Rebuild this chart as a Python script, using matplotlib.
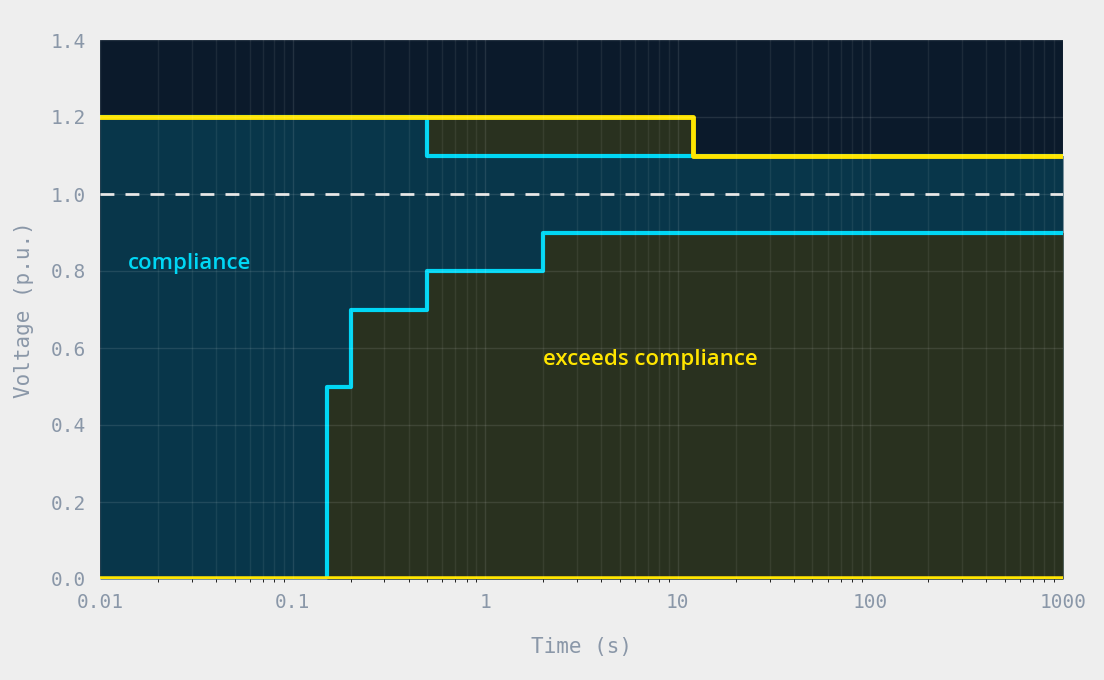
import matplotlib.pyplot as plt
import numpy as np

# upper compliance boundary (cyan), step-post
upper_t = [0.01, 0.5, 1000]
upper_v = [1.2, 1.1, 1.1]
# lower compliance boundary (cyan)
lower_t = [0.15, 0.2, 0.5, 2, 1000]
lower_v = [0.5, 0.7, 0.8, 0.9, 0.9]
# yellow limit
limit_t = [0.01, 12, 1000]
limit_v = [1.2, 1.1, 1.1]

BG = '#0b1a2b'
TEAL = '#08364a'
OLIVE = '#29311f'
CYAN = '#00d7f5'
YELLOW = '#ffe500'
TICK = '#8a97a8'

fig = plt.figure(figsize=(11.04, 6.8), dpi=100, facecolor='#eeeeee')
ax = fig.add_axes([100/1104, 101/680, 963/1104, 539/680])
ax.set_facecolor(BG)
ax.set_xscale('log')
ax.set_xlim(0.01, 1000)
ax.set_ylim(0, 1.4)

x = np.logspace(-2, 3, 2000)
up = np.array(upper_v)[np.searchsorted(upper_t, x, side='right') - 1]
lim = np.array(limit_v)[np.searchsorted(limit_t, x, side='right') - 1]
idx = np.searchsorted(lower_t, x, side='right') - 1
low = np.where(idx < 0, 0.0, np.array(lower_v)[np.clip(idx, 0, None)])

ax.fill_between(x, 0, up, color=TEAL, step='post', lw=0)
ax.fill_between(x, 0, low, where=x >= lower_t[0], color=OLIVE, step='post', lw=0)
ax.fill_between(x, up, lim, where=up < lim, color=OLIVE, step='post', lw=0)

ax.grid(True, which='both', axis='x', color='white', alpha=0.07, lw=1)
ax.grid(True, which='major', axis='both', color='white', alpha=0.1, lw=1)
ax.set_axisbelow(False)

ax.axhline(1.0, color='#e6e6e6', ls=(0, (5, 4)), lw=2)
ax.step(upper_t, upper_v, where='post', color=CYAN, lw=3)
ax.step([lower_t[0]] + lower_t, [0] + lower_v, where='post', color=CYAN, lw=3)
ax.step(limit_t, limit_v, where='post', color=YELLOW, lw=3.5)
ax.axhline(0.0, color=YELLOW, lw=4)

ax.text(0.014, 0.82, 'compliance', color=CYAN, fontsize=16, fontweight='semibold',
        family='Open Sans', va='center')
ax.text(2, 0.57, 'exceeds compliance', color=YELLOW, fontsize=16, fontweight='semibold',
        family='Open Sans', va='center')

ax.set_xticks([0.01, 0.1, 1, 10, 100, 1000])
ax.set_xticklabels(['0.01', '0.1', '1', '10', '100', '1000'])
ax.set_yticks(np.arange(0, 1.41, 0.2))
ax.set_yticklabels([f'{v:.1f}' for v in np.arange(0, 1.41, 0.2)])
ax.tick_params(colors=TICK, labelsize=14, length=0, pad=10)
for lab in ax.get_xticklabels() + ax.get_yticklabels():
    lab.set_family('DejaVu Sans Mono')
for s in ax.spines.values():
    s.set_visible(False)
ax.set_xlabel('Time (s)', color=TICK, fontsize=15, family='DejaVu Sans Mono', labelpad=18)
ax.set_ylabel('Voltage (p.u.)', color=TICK, fontsize=15, family='DejaVu Sans Mono', labelpad=12)

fig.savefig('out.png', dpi=100, facecolor=fig.get_facecolor())
